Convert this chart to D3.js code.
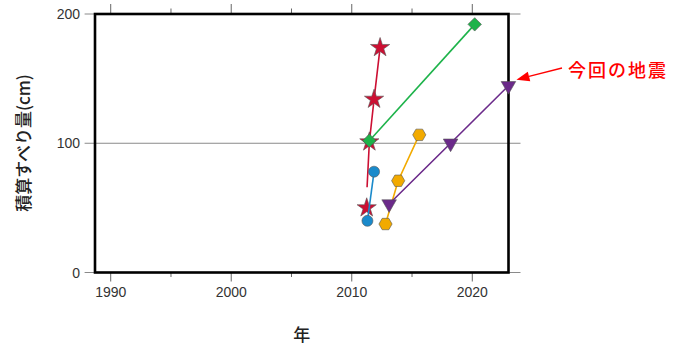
<!DOCTYPE html>
<html>
<head>
<meta charset="utf-8">
<script src="https://cdn.jsdelivr.net/npm/d3@7/dist/d3.min.js"></script>
<style>
  body { margin: 0; background: #fff; }
  svg text { font-family: "Liberation Sans", Arial, sans-serif; }
  .cjk { font-family: "Noto Sans CJK JP", sans-serif; font-weight: 500; }
</style>
</head>
<body>
<svg id="chart" width="681" height="345"></svg>
<script>
// data: [year, cumulative slip (cm)]
const starPts    = [[2011.24, 50], [2011.46, 101], [2011.85, 134], [2012.35, 174]];
const starLine   = [[2011.27, 66], [2011.46, 101], [2011.85, 134], [2012.35, 174]];
const circlePts  = [[2011.3, 40], [2011.85, 78]];
const hexPts     = [[2012.8, 37.5], [2013.85, 71], [2015.6, 106.5]];
const trianglePts = [[2013.1, 53], [2018.2, 100], [2023.0, 144.5]];
const diamondPts = [[2011.46, 102], [2020.2, 192]];

const xMajor = [1990, 2000, 2010, 2020];
const xMinor = [1995, 2005, 2015];
const yTicks = [0, 100, 200];

const yLabel = "積算すべり量(cm)";
const xLabel = "年";
const note = "今回の地震";

const svg = d3.select("#chart");

const x = d3.scaleLinear().domain([1988, 2024]).range([86.6, 520.5]);
const y = d3.scaleLinear().domain([0, 200]).range([272.5, 14]);

// frame box (inset from axis range)
const box = {x0: 95, x1: 508.5, y0: 14, y1: 272.5};

// gridlines / horizontal axis lines
svg.append("g").selectAll("line").data(yTicks).enter()
    .append("line")
    .attr("x1", x.range()[0] - 2)
    .attr("x2", x.range()[1])
    .attr("y1", d => y(d))
    .attr("y2", d => y(d))
    .attr("stroke", "#8a8a8a")
    .attr("stroke-width", 1);

svg.append("g").selectAll("text").data(yTicks).enter()
    .append("text")
    .attr("x", 80)
    .attr("y", d => y(d) + 5)
    .attr("text-anchor", "end")
    .attr("font-size", 14)
    .attr("fill", "#333")
    .text(d => d);

// x ticks, bottom and top
const ticks = xMajor.map(d => ({v: d, len: 9})).concat(xMinor.map(d => ({v: d, len: 4.5})));
svg.append("g").selectAll("line").data(ticks).enter()
    .append("line")
    .attr("x1", d => x(d.v)).attr("x2", d => x(d.v))
    .attr("y1", y(0)).attr("y2", d => y(0) + d.len)
    .attr("stroke", "#666").attr("stroke-width", 1);
svg.append("g").selectAll("line").data(ticks).enter()
    .append("line")
    .attr("x1", d => x(d.v)).attr("x2", d => x(d.v))
    .attr("y1", y(200)).attr("y2", d => y(200) - d.len - 1)
    .attr("stroke", "#666").attr("stroke-width", 1);

svg.append("g").selectAll("text").data(xMajor).enter()
    .append("text")
    .attr("x", d => x(d))
    .attr("y", 297)
    .attr("text-anchor", "middle")
    .attr("font-size", 14)
    .attr("fill", "#333")
    .text(d => d);

// axis titles
svg.append("text")
    .attr("class", "cjk")
    .attr("x", (box.x0 + box.x1) / 2)
    .attr("y", 341)
    .attr("text-anchor", "middle")
    .attr("font-size", 17)
    .attr("fill", "#222")
    .text(xLabel);

svg.append("text")
    .attr("class", "cjk")
    .attr("transform", "translate(30,143) rotate(-90)")
    .attr("text-anchor", "middle")
    .attr("font-size", 17)
    .attr("fill", "#222")
    .text(yLabel);

// frame
svg.append("rect")
    .attr("x", box.x0).attr("y", box.y0)
    .attr("width", box.x1 - box.x0).attr("height", box.y1 - box.y0)
    .attr("fill", "none")
    .attr("stroke", "#000")
    .attr("stroke-width", 2.6);

const line = d3.line().x(d => x(d[0])).y(d => y(d[1]));

function hexPath(r) {
    const p = d3.range(6).map(i => [r * Math.cos(i * Math.PI / 3), r * Math.sin(i * Math.PI / 3)]);
    return "M" + p.join("L") + "Z";
}

function series(lineData, pts, color, shape, rot) {
    const g = svg.append("g");
    g.append("path")
        .attr("d", line(lineData))
        .attr("fill", "none")
        .attr("stroke", color)
        .attr("stroke-width", 1.6);
    g.selectAll("path.m").data(pts).enter()
        .append("path")
        .attr("class", "m")
        .attr("d", shape)
        .attr("transform", d => `translate(${x(d[0])},${y(d[1])}) rotate(${rot})`)
        .attr("fill", color)
        .attr("stroke", "#555")
        .attr("stroke-width", 0.6);
}

series(starLine, starPts, "#cc0f33", d3.symbol(d3.symbolStar, 115)(), 0);
series(circlePts, circlePts, "#1a8acb", d3.symbol(d3.symbolCircle, 95)(), 0);
series(hexPts, hexPts, "#f2aa00", hexPath(6.6), 0);
series(trianglePts, trianglePts, "#6b2a8a", d3.symbol(d3.symbolTriangle, 92)(), 180);
series(diamondPts, diamondPts, "#1db34a", d3.symbol(d3.symbolSquare, 90)(), 45);

// annotation
const last = trianglePts[trianglePts.length - 1];
const tip = [x(last[0]) + 8, y(last[1]) - 6];
const tail = [562, 68];
const ang = Math.atan2(tail[1] - tip[1], tail[0] - tip[0]);
const hl = 13, hw = 5;
svg.append("line")
    .attr("x1", tail[0]).attr("y1", tail[1])
    .attr("x2", tip[0] + hl * Math.cos(ang)).attr("y2", tip[1] + hl * Math.sin(ang))
    .attr("stroke", "#f00").attr("stroke-width", 1.3);
const bx = tip[0] + hl * Math.cos(ang), by = tip[1] + hl * Math.sin(ang);
svg.append("path")
    .attr("d", `M${tip[0]},${tip[1]}L${bx - hw * Math.sin(ang)},${by + hw * Math.cos(ang)}L${bx + hw * Math.sin(ang)},${by - hw * Math.cos(ang)}Z`)
    .attr("fill", "#f00");

svg.append("text")
    .attr("class", "cjk")
    .attr("x", 568)
    .attr("y", 77)
    .attr("font-size", 18)
    .attr("letter-spacing", 2)
    .attr("fill", "#f00")
    .text(note);
</script>
</body>
</html>
